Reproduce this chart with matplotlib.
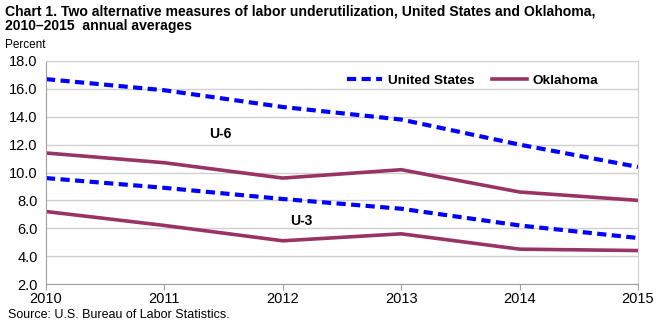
import matplotlib.pyplot as plt
import numpy as np

plt.rcParams['font.family'] = ['Liberation Sans', 'DejaVu Sans']

years = [2010, 2011, 2012, 2013, 2014, 2015]
us_u6 = [16.7, 15.9, 14.7, 13.8, 12.0, 10.4]
us_u3 = [9.6, 8.9, 8.1, 7.4, 6.2, 5.3]
ok_u6 = [11.4, 10.7, 9.6, 10.2, 8.6, 8.0]
ok_u3 = [7.2, 6.2, 5.1, 5.6, 4.5, 4.4]

us_color = '#0000ff'
ok_color = '#993366'

fig = plt.figure(figsize=(6.63, 3.28), dpi=100)
ax = fig.add_axes([46 / 663, 1 - 284 / 328, (638 - 46) / 663, (284 - 61) / 328])

ax.plot(years, us_u6, color=us_color, lw=3, ls=(0, (2.2, 1.3)), label='United States')
ax.plot(years, ok_u6, color=ok_color, lw=2.6, label='Oklahoma')
ax.plot(years, us_u3, color=us_color, lw=3, ls=(0, (2.2, 1.3)))
ax.plot(years, ok_u3, color=ok_color, lw=2.6)

ax.set_xlim(2010, 2015)
ax.set_ylim(2, 18)
ax.set_yticks(np.arange(2, 18.1, 2))
ax.set_yticklabels([f'{v:.1f}' for v in np.arange(2, 18.1, 2)])
ax.set_xticks(years)
ax.grid(axis='y', color='#d0d0d0', lw=1)
ax.set_axisbelow(True)
for s in ax.spines.values():
    s.set_color('#a0a0a0')
ax.spines['top'].set_color('#d0d0d0')
ax.spines['right'].set_color('#d0d0d0')
ax.tick_params(axis='y', length=0, labelsize=10.5, pad=6)
ax.tick_params(axis='x', length=4, color='#a0a0a0', labelsize=10.5, pad=2)

ax.text(2011.47, 12.5, 'U-6', fontsize=10, fontweight='bold', ha='center')
ax.text(2012.16, 6.2, 'U-3', fontsize=10, fontweight='bold', ha='center')

ax.legend(loc='upper right', bbox_to_anchor=(0.955, 1.0), ncol=2, frameon=False,
          handlelength=2.6, columnspacing=1.3, handletextpad=0.4, borderaxespad=0.6,
          prop={'weight': 'bold', 'size': 9.7})

fig.text(0.008, 0.985, 'Chart 1. Two alternative measures of labor underutilization, United States and Oklahoma,\n'
         '2010\u20132015  annual averages', fontsize=10.1, fontweight='bold', va='top', linespacing=1.05)
fig.text(0.008, 1 - 45 / 328, 'Percent', fontsize=8.5, va='center')
fig.text(0.012, 1 - 315 / 328, 'Source: U.S. Bureau of Labor Statistics.', fontsize=9, va='center')

fig.savefig('out.png', dpi=100)
